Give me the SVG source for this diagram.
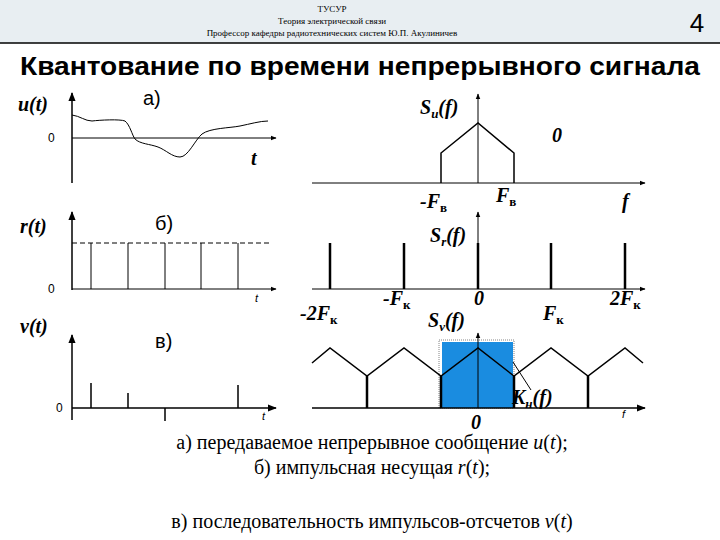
<svg xmlns="http://www.w3.org/2000/svg" width="720" height="540" viewBox="0 0 720 540">
<defs>
<marker id="ar" viewBox="0 0 10 10" refX="9" refY="5" markerWidth="6" markerHeight="6" orient="auto"><path d="M0,1 L10,5 L0,9 z" fill="#000"/></marker>
<style>
.ax{stroke:#000;stroke-width:1.5;fill:none}
.ln{stroke:#000;stroke-width:1;fill:none}
.th{stroke:#000;stroke-width:2.5;fill:none}
.lb{font-family:"Liberation Serif",serif;font-weight:bold;font-style:italic;font-size:20px}
.sm{font-family:"Liberation Sans",sans-serif;font-size:12px}
.pn{font-family:"Liberation Sans",sans-serif;font-size:20px}
</style>
</defs>
<rect width="720" height="540" fill="#fff"/>
<rect width="720" height="43" fill="#e8eef2"/>
<line x1="0" y1="43" x2="720" y2="43" stroke="#000" stroke-width="1.5"/>
<g font-family="Liberation Serif,serif" font-size="9" text-anchor="middle">
<text x="332" y="12">ТУСУР</text>
<text x="332" y="24">Теория электрической связи</text>
<text x="332" y="36">Профессор кафедры радиотехнических систем Ю.П. Акулиничев</text>
</g>
<text x="697" y="32" font-family="Liberation Sans,sans-serif" font-size="26" text-anchor="middle">4</text>
<text x="360" y="75" font-family="Liberation Sans,sans-serif" font-weight="bold" font-size="26" text-anchor="middle" textLength="680" lengthAdjust="spacingAndGlyphs">Квантование по времени непрерывного сигнала</text>

<g id="panel-u">
<line class="ax" x1="72" y1="183" x2="72" y2="93" marker-end="url(#ar)"/>
<line class="ln" x1="72" y1="138" x2="276" y2="138" marker-end="url(#ar)"/>
<path class="ln" d="M72,115 C80,116 85,121 92,121 C100,120 120,119 125,121 C130,125 132,135 135,139 C140,144 150,144 158,147 C166,150 172,157 180,157 C188,157 195,140 202,134 C210,128 230,128 240,126 C250,124 260,121 268,121"/>
<text class="lb" x="18" y="111">u(t)</text>
<text class="sm" x="48" y="142">0</text>
<text class="pn" x="143" y="105">а)</text>
<text class="lb" x="251" y="165">t</text>
</g>
<g id="panel-r">
<line class="ax" x1="72" y1="290" x2="72" y2="212" marker-end="url(#ar)"/>
<line class="ln" x1="72" y1="289" x2="276" y2="289" marker-end="url(#ar)"/>
<line class="ln" x1="72" y1="243" x2="272" y2="243" stroke-dasharray="5,3"/>
<path class="ln" d="M91,243V289M128,243V289M165,243V289M201,243V289M238,243V289"/>
<text class="lb" x="20" y="233">r(t)</text>
<text class="sm" x="48" y="293">0</text>
<text class="pn" x="155" y="230">б)</text>
<text x="255" y="302" font-family="Liberation Sans,sans-serif" font-style="italic" font-size="11">t</text>
</g>
<g id="panel-v">
<line class="ax" x1="72" y1="420" x2="72" y2="335" marker-end="url(#ar)"/>
<line class="ax" x1="72" y1="408" x2="276" y2="408" marker-end="url(#ar)"/>
<path class="ax" d="M91,408V383M128,408V393M165,408V421M238,408V385"/>
<text class="lb" x="20" y="333">v(t)</text>
<text class="sm" x="56" y="412">0</text>
<text class="pn" x="155" y="348">в)</text>
<text x="262" y="420" font-family="Liberation Sans,sans-serif" font-style="italic" font-size="11">t</text>
</g>

<g id="spec-u">
<line class="ln" x1="478" y1="183" x2="478" y2="94" marker-end="url(#ar)"/>
<line class="ln" x1="312" y1="183" x2="645" y2="183" marker-end="url(#ar)"/>
<path class="ax" d="M441,183V153L478,123L514,153V183"/>
<text class="lb" x="420" y="114">S<tspan font-size="13" dy="4">u</tspan><tspan dy="-4">(f)</tspan></text>
<text class="lb" x="552" y="142">0</text>
<text class="lb" x="420" y="208">-F<tspan font-size="13" font-style="normal" dy="4">в</tspan></text>
<text class="lb" x="496" y="202">F<tspan font-size="13" font-style="normal" dy="4">в</tspan></text>
<text class="lb" x="622" y="208">f</text>
</g>
<g id="spec-r">
<line class="ln" x1="478" y1="289" x2="478" y2="212" marker-end="url(#ar)"/>
<line class="ln" x1="312" y1="289" x2="645" y2="289" marker-end="url(#ar)"/>
<path class="th" d="M330,243V289M404,243V289M478,243V289M551,243V289M625,243V289"/>
<text class="lb" x="430" y="242">S<tspan font-size="13" dy="4">r</tspan><tspan dy="-4">(f)</tspan></text>
<text class="lb" x="300" y="320">-2F<tspan font-size="13" font-style="normal" dy="4">к</tspan></text>
<text class="lb" x="383" y="305">-F<tspan font-size="13" font-style="normal" dy="4">к</tspan></text>
<text class="lb" x="474" y="305">0</text>
<text class="lb" x="543" y="320">F<tspan font-size="13" font-style="normal" dy="4">к</tspan></text>
<text class="lb" x="610" y="305">2F<tspan font-size="13" font-style="normal" dy="4">к</tspan></text>
</g>
<g id="spec-v">
<rect x="439" y="340" width="75" height="68" fill="none" stroke="#666" stroke-width="0.8" stroke-dasharray="1,1"/>
<rect x="442" y="342" width="71" height="66" fill="#1a8ce0"/>
<line class="ln" x1="478" y1="408" x2="478" y2="333" marker-end="url(#ar)"/>
<line class="ax" x1="312" y1="408" x2="645" y2="408" marker-end="url(#ar)"/>
<path class="ax" d="M312,363L330,348L367,376L404,348L441,376L478,348L514,376L551,348L588,376L625,348L643,363"/>
<path class="th" d="M367,376V408M441,376V408M514,376V408M588,376V408" stroke-width="3"/>
<line class="ln" x1="513" y1="362" x2="531" y2="390"/>
<text class="lb" x="428" y="327">S<tspan font-size="13" dy="4">v</tspan><tspan dy="-4">(f)</tspan></text>
<text class="lb" x="512" y="404">K<tspan font-size="13" dy="4">н</tspan><tspan dy="-4">(f)</tspan></text>
<text class="lb" x="471" y="429" font-size="18">0</text>
</g>
<text x="622" y="418" font-family="Liberation Sans,sans-serif" font-style="italic" font-size="11">f</text>

<g font-family="Liberation Serif,serif" font-size="20" text-anchor="middle">
<text x="372" y="449">а) передаваемое непрерывное сообщение <tspan font-style="italic">u</tspan>(<tspan font-style="italic">t</tspan>);</text>
<text x="372" y="474">б) импульсная несущая  <tspan font-style="italic">r</tspan>(<tspan font-style="italic">t</tspan>);</text>
<text x="372" y="528">в) последовательность импульсов-отсчетов <tspan font-style="italic">v</tspan>(<tspan font-style="italic">t</tspan>)</text>
</g>
</svg>
